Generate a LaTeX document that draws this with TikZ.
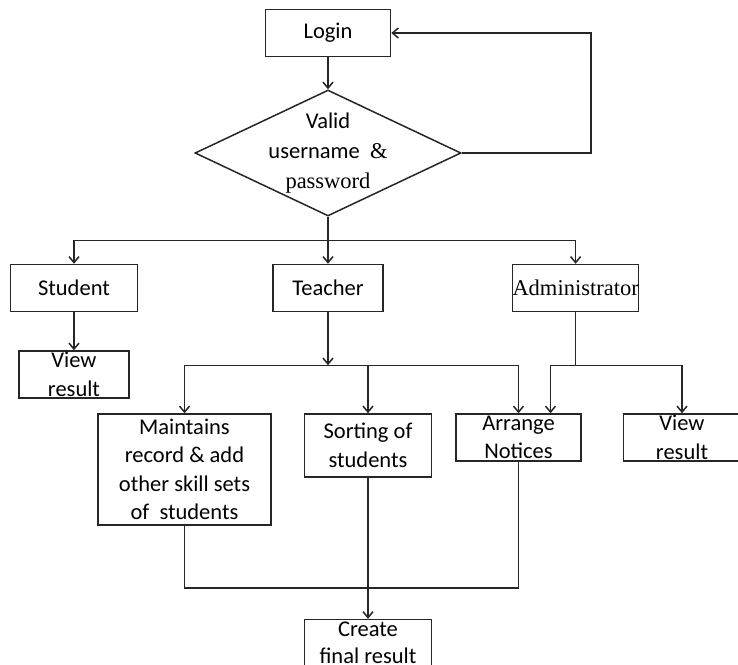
\documentclass[tikz,border=0pt]{standalone}
\usepackage{fontspec}
\setmainfont{Carlito}
\newfontfamily\tnr{Liberation Serif}
\usepackage{tikz}
\usetikzlibrary{shapes.geometric,arrows.meta,positioning,calc}

\begin{document}
\begin{tikzpicture}[
    font=\fontsize{22.5}{28.5}\selectfont,
    node distance=0mm,
    line width=1.5pt,
    box/.style={draw=black!85, line width=1.5pt, minimum height=47pt, align=center, inner xsep=0pt, inner ysep=-3pt},
    decision/.style={draw=black!85, diamond, line width=1.5pt, minimum width=266pt, minimum height=126pt, inner sep=0pt},
    flow/.style={draw=black!85, -{Straight Barb[length=6pt, width=10pt]}, line width=1.5pt},
    link/.style={draw=black!85, line width=1.5pt}
]
\useasboundingbox (-328pt,33pt) rectangle (410pt,-631pt);

\node[box, minimum width=125pt] (login) {Login};
\node[decision, below=32pt of login,
      label={[align=center, font=\fontsize{22.5}{30}\selectfont]center:Valid\\username\ \ {\tnr\&}\\{\tnr password}}] (valid) {};

\node[box, minimum width=110pt, below=47pt of valid] (teacher) {Teacher};
\node[box, minimum width=127pt, left=134pt of teacher] (student) {Student};
\node[box, minimum width=124pt, right=128pt of teacher] (admin) {\tnr Administrator};
\node[box, minimum width=110pt, below=38pt of student] (sview) {View\\result};

\node[box, minimum width=127pt, minimum height=63pt, below=101pt of teacher, xshift=40pt] (sorting) {Sorting of\\students};
\node[box, minimum width=173pt, minimum height=111pt, left=32pt of sorting.north west, anchor=north east] (maintain) {Maintains\\record \& add\\other skill sets\\of\ \ students};
\node[box, minimum width=125pt, right=23pt of sorting.north east, anchor=north west] (arrange) {Arrange\\Notices};
\node[box, minimum width=117pt, right=41pt of arrange] (aview) {View\\result};
\node[box, minimum width=127pt, below=141pt of sorting, font=\fontsize{22.5}{27}\selectfont] (create) {Create\\final result};

% login check
\draw[flow] (login.south) -- (valid.north);
\draw[flow] (valid.east) -- ++(129pt,0) |- (login.east);

% roles
\coordinate (split1) at ($(valid.south)!0.5!(teacher.north)$);
\draw[flow] (valid.south) -- (teacher.north);
\draw[flow] (split1) -| (student.north);
\draw[flow] (split1) -| (admin.north);
\draw[flow] (student.south) -- (sview.north);

% teacher tasks
\coordinate[below=53pt of teacher.south] (split2);
\draw[flow] (teacher.south) -- (split2);
\draw[flow] (split2) -| (maintain.north);
\draw[flow] (split2) -| (sorting.north);
\draw[flow] (split2) -| (arrange.north);

% administrator tasks
\coordinate (split3) at (admin.south |- split2);
\draw[link] (admin.south) -- (split3);
\draw[flow] (split3) -| ([xshift=32pt]arrange.north);
\draw[flow] (split3) -| (aview.north);

% final result
\coordinate[above=31pt of create.north] (merge);
\draw[link] (maintain.south) |- (merge) -| (arrange.south);
\draw[flow] (sorting.south) -- (create.north);
\end{tikzpicture}
\end{document}
